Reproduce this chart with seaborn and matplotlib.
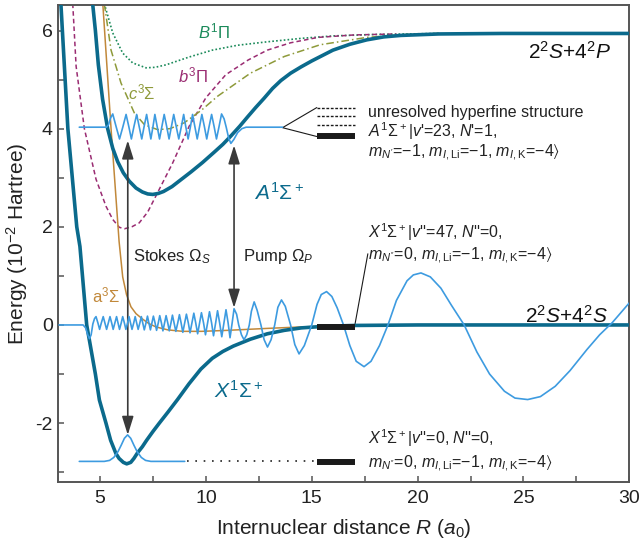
import matplotlib
matplotlib.use("Agg")
import matplotlib.pyplot as plt
import seaborn as sns

# ---- potential curves, R in a0, energy in 1e-2 Hartree ----
X_R = [3.15, 3.48, 3.9, 4.05, 4.37, 4.78, 4.97, 5.28, 5.5, 5.75, 5.9, 6.1, 6.26, 6.45, 6.6,
       6.78, 7.0, 7.2, 7.5, 7.8, 8.2, 8.66, 9.2, 9.76, 10.3, 10.8, 11.3, 12.1, 12.9, 13.7, 14.5,
       15.5, 17.0, 20.0, 30.0]
X_E = [6.55, 4.0, 2.0, 1.6, 0.0, -1.0, -1.53, -2.0, -2.35, -2.62, -2.72, -2.8, -2.83, -2.8, -2.72,
       -2.6, -2.48, -2.35, -2.17, -2.0, -1.78, -1.52, -1.2, -0.9, -0.68, -0.54, -0.43, -0.29, -0.18,
       -0.11, -0.06, -0.03, -0.01, 0.0, 0.0]

A_R = [4.65, 4.78, 4.92, 5.12, 5.36, 5.6, 5.83, 6.1, 6.38, 6.7, 7.0, 7.25, 7.49, 7.75, 8.0, 8.4,
       8.82, 9.3, 9.84, 10.39, 10.8, 11.18, 11.6, 11.97, 12.35, 12.75, 13.15, 13.54, 14.0, 14.5,
       15.0, 15.5, 16.0, 16.8, 17.6, 18.4, 19.2, 21.0, 24.0, 30.0]
A_E = [6.55, 6.0, 5.3, 4.6, 4.0, 3.6, 3.33, 3.1, 2.93, 2.79, 2.71, 2.67, 2.66, 2.68, 2.72, 2.82,
       2.96, 3.12, 3.31, 3.52, 3.68, 3.85, 4.05, 4.24, 4.43, 4.62, 4.82, 4.98, 5.13, 5.26,
       5.38, 5.49, 5.6, 5.72, 5.81, 5.87, 5.9, 5.93, 5.94, 5.94]

B_R = [5.2, 5.6, 6.07, 6.54, 7.17, 7.6, 8.11, 9.21, 10.3, 11.5, 12.9, 14.5, 16.0, 18.0, 21.0]
B_E = [6.55, 5.95, 5.54, 5.34, 5.24, 5.25, 5.3, 5.46, 5.6, 5.7, 5.77, 5.84, 5.89, 5.92, 5.94]

b_R = [3.71, 3.87, 4.26, 4.81, 5.28, 5.6, 5.91, 6.15, 6.5, 6.85, 7.25, 7.64, 8.43, 9.21, 10.0,
       10.94, 12.0, 12.9, 14.0, 15.3, 17.0, 19.0]
b_E = [6.55, 5.27, 4.0, 2.97, 2.42, 2.15, 1.99, 1.96, 2.0, 2.08, 2.3, 2.63, 3.3, 4.05, 4.63,
       5.1, 5.4, 5.6, 5.75, 5.86, 5.91, 5.93]

c_R = [5.2, 5.52, 5.99, 6.62, 7.1, 7.72, 8.3, 8.98, 9.8, 10.55, 12.1, 13.7, 15.4, 17.6, 19.5, 21.0]
c_E = [6.55, 5.6, 4.93, 4.32, 4.08, 3.98, 4.0, 4.12, 4.38, 4.66, 5.13, 5.47, 5.71, 5.86, 5.92, 5.94]

a_R = [5.13, 5.52, 5.9, 6.07, 6.25, 6.46, 6.7, 7.01, 7.3, 7.64, 8.2, 8.9, 9.8, 11.0, 12.9, 14.5, 16.0]
a_E = [6.55, 4.0, 1.7, 0.98, 0.62, 0.37, 0.23, 0.12, 0.03, -0.04, -0.1, -0.13, -0.13, -0.11, -0.07, -0.04, -0.02]

# ---- vibrational wavefunctions ----
wA_R = [4.02, 5.3, 5.4, 5.5, 5.6, 5.76, 5.92, 6.08, 6.23, 6.36, 6.48, 6.6, 6.73, 6.85, 6.97, 7.08,
        7.2, 7.3, 7.4, 7.5, 7.59, 7.7, 7.81, 7.92, 8.03, 8.15, 8.26, 8.37, 8.48, 8.6, 8.72, 8.84,
        8.95, 9.05, 9.16, 9.27, 9.37, 9.48, 9.59, 9.7, 9.81, 9.93, 10.04, 10.15, 10.27, 10.39, 10.5,
        10.62, 10.74, 10.86, 10.96, 11.08, 11.18, 11.32, 11.5, 11.7, 11.9, 13.62]
wA_E = [4.03, 4.03, 4.08, 4.22, 4.3, 4.04, 3.79, 4.04, 4.29, 4.04, 3.79, 4.04, 4.29, 4.04, 3.79, 4.04,
        4.29, 4.04, 3.79, 4.04, 4.29, 4.04, 3.79, 4.04, 4.29, 4.04, 3.79, 4.04, 4.29, 4.04, 3.79, 4.04,
        4.29, 4.04, 3.79, 4.04, 4.29, 4.04, 3.79, 4.04, 4.29, 4.04, 3.79, 4.04, 4.29, 4.04, 3.79,
        4.04, 4.3, 4.2, 4.03, 3.8, 3.7, 3.78, 3.92, 4.0, 4.03, 4.03]

# X v''=47 wavefunction, (R, E) points
w47_pts = [
    (3.06, 0.0), (4.2, 0.0), (4.32, -0.06), (4.42, -0.2), (4.5, -0.28), (4.58, -0.2), (4.66, 0.02),
    (4.74, 0.13), (4.81, 0.17), (4.9, 0.04), (4.98, -0.09), (5.06, 0.04), (5.15, 0.17), (5.23, 0.04),
    (5.31, -0.09), (5.39, 0.04), (5.47, 0.17), (5.55, 0.04), (5.62, -0.09), (5.7, 0.04), (5.78, 0.17),
    (5.85, 0.04), (5.92, -0.09), (6.0, 0.04), (6.07, 0.17), (6.15, 0.04), (6.22, -0.09), (6.3, 0.04),
    (6.37, 0.17), (6.44, 0.04), (6.51, -0.09), (6.59, 0.04), (6.66, 0.17), (6.73, 0.04), (6.8, -0.09),
    (6.88, 0.04), (6.95, 0.17), (7.02, 0.04), (7.09, -0.1), (7.17, 0.04), (7.24, 0.18), (7.31, 0.04),
    (7.38, -0.1), (7.45, 0.04), (7.52, 0.18), (7.6, 0.04), (7.67, -0.11), (7.75, 0.04), (7.82, 0.19),
    (7.9, 0.04), (7.97, -0.12), (8.05, 0.04), (8.12, 0.19), (8.2, 0.04), (8.27, -0.12), (8.35, 0.04),
    (8.42, 0.2), (8.5, 0.04), (8.58, -0.13), (8.67, 0.04), (8.75, 0.21), (8.83, 0.04), (8.91, -0.15),
    (9.0, 0.04), (9.08, 0.22), (9.17, 0.04), (9.25, -0.16), (9.34, 0.04), (9.43, 0.24), (9.52, 0.04),
    (9.61, -0.18), (9.7, 0.04), (9.79, 0.25), (9.89, 0.04), (9.98, -0.2), (10.08, 0.04), (10.17, 0.27),
    (10.27, 0.04), (10.36, -0.22), (10.46, 0.04), (10.55, 0.29), (10.65, 0.04), (10.75, -0.24),
    (10.85, 0.04), (10.95, 0.31), (11.05, 0.04), (11.14, -0.26), (11.24, 0.04), (11.33, 0.33),
    (11.45, 0.22), (11.55, 0.0), (11.68, -0.2), (11.8, -0.3), (11.93, -0.2), (12.05, 0.0),
    (12.15, 0.28), (12.28, 0.47), (12.42, 0.3), (12.6, 0.0), (12.75, -0.3), (12.91, -0.45),
    (13.08, -0.3), (13.25, 0.0), (13.4, 0.36), (13.57, 0.51), (13.75, 0.38), (14.0, 0.0),
    (14.2, -0.4), (14.4, -0.59), (14.65, -0.42), (15.0, 0.0), (15.25, 0.42), (15.45, 0.62),
    (15.7, 0.68), (15.95, 0.58), (16.2, 0.35), (16.5, 0.0), (16.8, -0.42), (17.1, -0.74),
    (17.47, -0.85), (17.8, -0.74), (18.2, -0.42), (18.6, 0.0), (19.0, 0.5), (19.5, 0.9),
    (19.8, 1.02), (20.16, 1.06), (20.6, 0.98), (21.1, 0.75), (21.6, 0.4), (22.2, 0.0), (22.8, -0.55),
    (23.4, -1.0), (24.1, -1.35), (24.6, -1.49), (25.2, -1.52), (25.8, -1.46), (26.5, -1.25),
    (27.2, -0.93), (28.0, -0.5), (28.6, -0.2), (29.2, 0.05), (30.0, 0.45),
]
w47_R = [p[0] for p in w47_pts]
w47_E = [p[1] for p in w47_pts]

w0_R = [4.02, 5.2, 5.45, 5.65, 5.85, 6.0, 6.15, 6.3, 6.45, 6.6, 6.75, 6.95, 7.15, 7.4, 9.0]
w0_E = [-2.78, -2.78, -2.76, -2.7, -2.58, -2.45, -2.31, -2.24, -2.31, -2.45, -2.58, -2.7, -2.76, -2.78, -2.78]

# levels (black bars) and hyperfine lines
bar_R = [15.27, 17.02]
bar_E = [3.86, -0.04, -2.79]
hf_E = [4.42, 4.25, 4.08]

teal = "#0b6a8c"
wave = "#3d9be0"

sns.set_style("white")
plt.rcParams["font.family"] = ["Liberation Sans", "DejaVu Sans"]
plt.rcParams["mathtext.fontset"] = "custom"
plt.rcParams["mathtext.rm"] = "Liberation Sans"
plt.rcParams["mathtext.it"] = "Liberation Sans:italic"
plt.rcParams["mathtext.fallback"] = "stixsans"
plt.rcParams["axes.unicode_minus"] = False

fig = plt.figure(figsize=(6.42, 5.46), dpi=100)
ax = fig.add_axes([57.7 / 642, 1 - 482 / 546, 571.6 / 642, 477 / 546])


def curve(R, E, color, lw, ls="-", z=2):
    sns.lineplot(x=R, y=E, ax=ax, color=color, lw=lw, estimator=None, sort=False, zorder=z)
    ax.lines[-1].set_linestyle(ls)
    ax.lines[-1].set_solid_joinstyle("round")


curve(B_R, B_E, "#1b8a5a", 1.2, (0, (1, 1.3)))
curve(b_R, b_E, "#9a2c72", 1.1, (0, (3, 2)))
curve(c_R, c_E, "#8e9a3a", 1.1, (0, (5, 2, 1, 2)))
curve(a_R, a_E, "#c1883a", 1.1)
curve(X_R, X_E, teal, 2.6, z=3)
curve(A_R, A_E, teal, 2.6, z=3)
curve(wA_R, wA_E, wave, 1.2, z=4)
curve(w47_R, w47_E, wave, 1.2, z=4)
curve(w0_R, w0_E, wave, 1.2, z=4)

# dotted guide from v''=0 to its level bar
ax.plot([9.1, 15.27], [-2.78, -2.78], color="#222222", lw=1.2, ls=(0, (1, 4)))
for e in bar_E:
    ax.plot(bar_R, [e, e], color="#1a1a1a", lw=4.3, solid_capstyle="butt", zorder=5)
for e in hf_E:
    ax.plot(bar_R, [e, e], color="#1a1a1a", lw=1.0, ls=(0, (2, 1.2)))
ax.plot([15.24, 13.62, 15.24], [4.43, 4.02, 3.84], color="#1a1a1a", lw=0.8)
ax.plot([17.02, 17.65], [-0.04, 1.45], color="#1a1a1a", lw=0.8)

arrow = dict(arrowstyle="<|-|>,head_length=0.8,head_width=0.25", color="#3a3a3a", lw=1.2,
             shrinkA=0, shrinkB=0, mutation_scale=14)
ax.annotate("", xy=(6.31, -2.24), xytext=(6.31, 3.76), arrowprops=arrow)
ax.annotate("", xy=(11.33, 0.35), xytext=(11.33, 3.66), arrowprops=arrow)

ax.text(10.4, 5.99, r"$B^1\Pi$", color="#1b8a5a", fontsize=12, ha="center", va="center")
ax.text(9.39, 5.08, r"$b^3\Pi$", color="#9a2c72", fontsize=12, ha="center", va="center")
ax.text(6.98, 4.73, r"$c^3\Sigma$", color="#8e9a3a", fontsize=12, ha="center", va="center")
ax.text(5.28, 0.61, r"a$^3\Sigma$", color="#c1883a", fontsize=12, ha="center", va="center")
ax.text(13.44, 2.69, r"$A^1\Sigma^+$", color=teal, fontsize=15, ha="center", va="center")
ax.text(11.56, -1.35, r"$X^1\Sigma^+$", color=teal, fontsize=15, ha="center", va="center")
ax.text(27.17, 5.57, r"2$^2S$+4$^2P$", color="#111111", fontsize=15, ha="center", va="center")
ax.text(27.03, 0.19, r"2$^2S$+4$^2S$", color="#111111", fontsize=15, ha="center", va="center")
ax.text(6.56, 1.39, r"Stokes $\Omega_S$", color="#222222", fontsize=12, ha="left", va="center")
ax.text(11.75, 1.39, r"Pump $\Omega_P$", color="#222222", fontsize=12, ha="left", va="center")

notes = [
    (4.33, "unresolved hyperfine structure"),
    (3.95, r"$A^1\Sigma^+|v$'=23, $N$'=1,"),
    (3.50, r"$m_{N'}$=−1, $m_{I,\mathrm{Li}}$=−1, $m_{I,\mathrm{K}}$=−4$\rangle$"),
    (1.90, r"$X^1\Sigma^+|v$''=47, $N$''=0,"),
    (1.40, r"$m_{N''}$=0, $m_{I,\mathrm{Li}}$=−1, $m_{I,\mathrm{K}}$=−4$\rangle$"),
    (-2.30, r"$X^1\Sigma^+|v$''=0, $N$''=0,"),
    (-2.82, r"$m_{N''}$=0, $m_{I,\mathrm{Li}}$=−1, $m_{I,\mathrm{K}}$=−4$\rangle$"),
]
for e, s in notes:
    ax.text(17.64, e, s, color="#222222", fontsize=11.5, ha="left", va="center")

ax.set_xlim(3, 30)
ax.set_ylim(-3.2, 6.52)
ax.set_xticks([5, 10, 15, 20, 25, 30])
ax.set_xticks([7.5, 12.5, 17.5, 22.5, 27.5], minor=True)
ax.set_yticks([-2, 0, 2, 4, 6])
ax.set_yticks([-3, -1, 1, 3, 5], minor=True)
ax.tick_params(which="both", direction="in", length=4, width=1.1, color="#555555",
               labelsize=14, labelcolor="#222222", bottom=True, left=True)
ax.tick_params(axis="x", pad=6)
for sp in ax.spines.values():
    sp.set_color("#555555")
    sp.set_linewidth(1.4)
ax.set_xlabel(r"Internuclear distance $R$ ($a_0$)", fontsize=15, color="#222222", labelpad=7)
ax.set_ylabel(r"Energy (10$^{-2}$ Hartree)", fontsize=15, color="#222222")

fig.savefig("out.png", dpi=100)
